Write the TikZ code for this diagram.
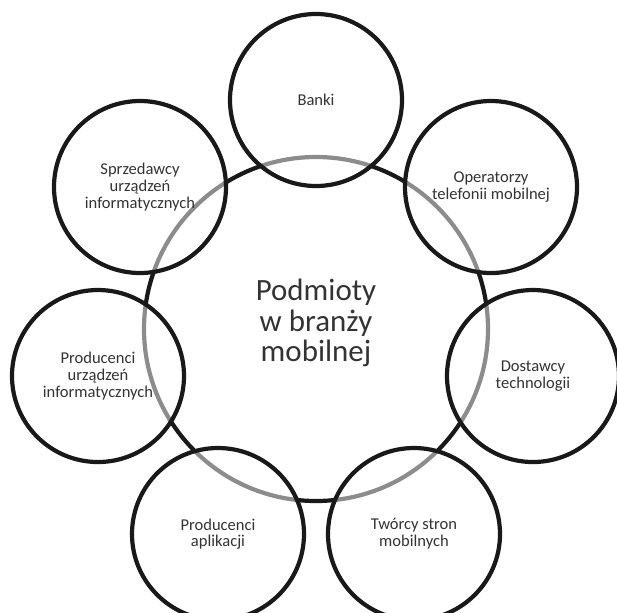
\documentclass[tikz,border=0pt]{standalone}
\usepackage{fontspec}
\setmainfont{Carlito}
\begin{document}
\begin{tikzpicture}[x=0.75pt,y=0.75pt,yscale=-1,xscale=1,
  podmiot/.style={draw=black!90, line width=3.15pt, circle, minimum size=129pt, inner sep=0pt,
    fill=white, fill opacity=0.5, draw opacity=1, text opacity=1, text=black!80, align=center,
    font=\fontsize{12.4}{12.5}\selectfont}]
\useasboundingbox (0,0) rectangle (617,612);

%Shape: Circle (big)
\node [draw=black!90, line width=3.15pt, circle, minimum size=258pt, inner sep=0pt] (srodek) at (316,329) {};
% Text Node
\node [text=black!80, align=center, font=\fontsize{23.2}{22.6}\selectfont] (podmioty) at (316,323) {Podmioty\\w branży\\mobilnej};

%Shape: Circles (small)
\node [podmiot] (banki) at (316,100) {Banki};
\node [podmiot] (operatorzy) at (491,187) {Operatorzy\\telefonii mobilnej};
\node [podmiot] (dostawcy) at (533,376) {Dostawcy\\technologii};
\node [podmiot] (tworcy) at (414,534) {Twórcy stron\\mobilnych};
\node [podmiot] (aplikacje) at (218,534) {Producenci\\aplikacji};
\node [podmiot] (producenci) at (98,376) {Producenci\\urządzeń\\informatycznych};
\node [podmiot] (sprzedawcy) at (140,187) {Sprzedawcy\\urządzeń\\informatycznych};

\end{tikzpicture}
\end{document}
